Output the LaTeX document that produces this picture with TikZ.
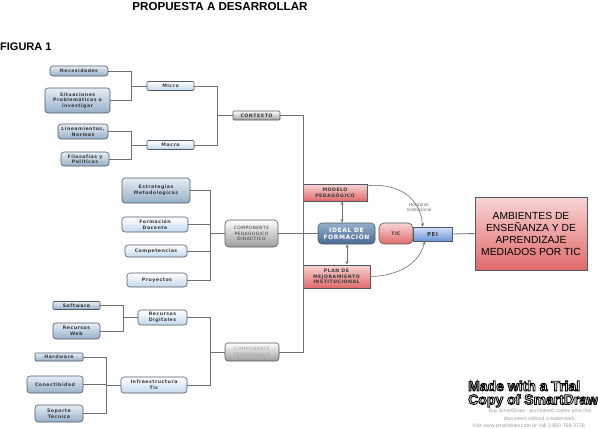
\documentclass[tikz,border=0pt]{standalone}
\usepackage{fontspec}
\setmainfont{Liberation Sans}
\newfontfamily\bx[LetterSpace=10]{DejaVu Sans}
\usetikzlibrary{arrows.meta}
\definecolor{lnc}{HTML}{707070}
\definecolor{bord}{HTML}{505A64}
\definecolor{txd}{HTML}{3A3A3A}
\definecolor{bltop}{HTML}{E6EEF6}
\definecolor{blbot}{HTML}{95AFC8}
\definecolor{lbbot}{HTML}{C2D8EE}
\definecolor{grbot}{HTML}{9C9C9C}
\definecolor{rdtop}{HTML}{F9D4D4}
\definecolor{rdbot}{HTML}{E06A6A}
\definecolor{idtop}{HTML}{95AFC8}
\definecolor{idbot}{HTML}{4A6A96}
\definecolor{petop}{HTML}{D4E2F8}
\definecolor{pebot}{HTML}{6A95D8}
\definecolor{ltxt}{HTML}{A0A0A0}
\newcommand{\outlinetext}[1]{\special{pdf:literal direct 1 Tr 0.9 w}#1\special{pdf:literal direct 0 Tr}}
\tikzset{
  base/.style={draw=bord, line width=0.6pt, align=center, inner sep=0.5pt, text=txd,
    font=\bx\bfseries\fontsize{4.7}{5.7}\selectfont},
  bluebox/.style={base, rounded corners=3pt, top color=bltop, bottom color=blbot},
  lbluebox/.style={base, rounded corners=3pt, top color=white, bottom color=lbbot},
  graybox/.style={base, rounded corners=3pt, top color=white, bottom color=grbot},
  redbox/.style={base, top color=rdtop, bottom color=rdbot},
  conn/.style={draw=lnc, line width=0.8pt},
  arr/.style={draw=lnc, line width=0.6pt, -{Stealth[length=3.5pt,width=3pt]}},
  darr/.style={draw=lnc, line width=0.6pt, {Stealth[length=3.5pt,width=3pt]}-{Stealth[length=3.5pt,width=3pt]}},
  wmfont/.style={font=\bfseries\fontsize{14}{13.5}\selectfont, anchor=west, inner sep=0pt, align=left},
}
\begin{document}
\begin{tikzpicture}[x=1pt,y=-1pt]
\useasboundingbox (0,0) rectangle (598,429);
\fill[white] (0,0) rectangle (598,429);

% titles
\node[font=\bfseries\fontsize{11.6}{13}\selectfont] (title) at (220,7) {PROPUESTA A DESARROLLAR};
\node[font=\bfseries\fontsize{11}{13}\selectfont, anchor=west, inner sep=0pt] (fig) at (0,47) {FIGURA 1};

% context branch
\node[bluebox, minimum width=58pt, minimum height=10pt] (nec) at (79,71) {Necesidades};
\node[bluebox, minimum width=65pt, minimum height=25pt] (sit) at (77.5,100.5) {Situaciones\\Problemáticas a\\investigar};
\node[lbluebox, rounded corners=1pt, minimum width=47pt, minimum height=9pt] (micro) at (170.5,86) {Micro};
\node[bluebox, minimum width=50pt, minimum height=15pt] (lin) at (83,131.5) {Lineamientos,\\Normas};
\node[bluebox, minimum width=48pt, minimum height=14pt] (fil) at (85,159) {Filosofías y\\Políticas};
\node[lbluebox, rounded corners=1pt, minimum width=47pt, minimum height=9pt] (macro) at (170.5,145) {Macro};
\node[graybox, rounded corners=1pt, minimum width=47pt, minimum height=9pt] (ctx) at (256.5,115.5) {CONTEXTO};

% pedagogic branch
\node[bluebox, minimum width=68pt, minimum height=25pt] (estr) at (156,190.5) {Estrategias\\Metodologicas};
\node[lbluebox, minimum width=66pt, minimum height=15pt] (form) at (155,224.5) {Formación\\Docente};
\node[lbluebox, minimum width=62pt, minimum height=12pt] (comp) at (156,251) {Competencias};
\node[lbluebox, minimum width=60pt, minimum height=14pt] (proy) at (157,280) {Proyectos};
\node[graybox, rounded corners=4pt, minimum width=53pt, minimum height=27pt, font=\bx\fontsize{4.4}{5.5}\selectfont] (cpd) at (251.5,233.5) {COMPONENTE\\PEDAGOGICO\\DIDACTICO};

% center
\node[redbox, minimum width=64pt, minimum height=17pt] (mod) at (335,192.5) {MODELO\\PEDAGÓGICO};
\node[base, rounded corners=4pt, top color=idtop, bottom color=idbot, text=white,
  font=\bx\bfseries\fontsize{6}{7}\selectfont, minimum width=57pt, minimum height=21pt] (ideal) at (346.5,233.5) {IDEAL DE\\FORMACIÓN};
\node[redbox, rounded corners=5pt, minimum width=34pt, minimum height=21pt] (tic) at (396,233.5) {TIC};
\node[base, top color=petop, bottom color=pebot, minimum width=39pt, minimum height=14pt,
  font=\bx\bfseries\fontsize{5.5}{6.5}\selectfont] (pei) at (432.5,234) {PEI};
\node[redbox, minimum width=112pt, minimum height=73pt, text=black,
  font=\fontsize{10.3}{12}\selectfont] (amb) at (531,233.5) {AMBIENTES DE\\ENSEÑANZA Y DE\\APRENDIZAJE\\MEDIADOS POR TIC};
\node[redbox, minimum width=67pt, minimum height=23pt] (plan) at (336.5,276.5) {PLAN DE\\MEJORAMIENTO\\INSTITUCIONAL};
\node[text=lnc, font=\fontsize{4.6}{5.2}\selectfont, align=center, inner sep=0pt] (hor) at (419,207.5) {Horizonte\\Institucional};

% technological branch
\node[bluebox, rounded corners=1pt, minimum width=47pt, minimum height=8pt] (soft) at (76.5,305.5) {Software};
\node[bluebox, minimum width=47pt, minimum height=16pt] (web) at (76.5,331) {Recursos\\Web};
\node[lbluebox, minimum width=49pt, minimum height=15pt] (recd) at (162.5,317.5) {Recursos\\Digitales};
\node[bluebox, rounded corners=1pt, minimum width=48pt, minimum height=8pt] (hard) at (59,357) {Hardware};
\node[bluebox, minimum width=56pt, minimum height=17pt] (conec) at (55,384.5) {Conectibidad};
\node[bluebox, minimum width=48pt, minimum height=17pt] (sop) at (59,413.5) {Soporte\\Técnico};
\node[lbluebox, minimum width=66pt, minimum height=16pt] (infra) at (154,385) {Infraestructura\\Tic};
\node[graybox, minimum width=54pt, minimum height=18pt, text=ltxt,
  font=\bx\fontsize{4.4}{5.5}\selectfont] (ctec) at (252,352) {COMPONENTE\\TECNOLOGICO};

% helper coordinates
\coordinate (xa) at (131,0);
\coordinate (xb) at (217,0);
\coordinate (xs) at (303,0);
\coordinate (xc) at (210,0);
\coordinate (xd) at (123,0);
\coordinate (xe) at (106,0);
\coordinate (xm) at (342,0);
\coordinate (xp) at (347,0);

% connectors
\draw[conn] (nec.east) -| (sit.east -| xa) -- (sit.east);
\draw[conn] (micro.west) -- (micro.west -| xa);
\draw[conn] (lin.east) -| (fil.east -| xa) -- (fil.east);
\draw[conn] (macro.west) -- (macro.west -| xa);
\draw[conn] (micro.east) -| (macro.east -| xb) -- (macro.east);
\draw[conn] (ctx.west) -- (ctx.west -| xb);
\draw[conn] (ctx.east) -| (ctec.east -| xs) -- (ctec.east);
\draw[conn] (estr.east) -| (proy.east -| xc) -- (proy.east);
\draw[conn] (form.east) -- (form.east -| xc);
\draw[conn] (comp.east) -- (comp.east -| xc);
\draw[conn] (cpd.west) -- (cpd.west -| xc);
\draw[conn] (cpd.east) -- (ideal.west);
\draw[conn] (pei.east) -- (amb.west);
\draw[conn] (soft.east) -| (web.east -| xd) -- (web.east);
\draw[conn] (recd.west) -- (recd.west -| xd);
\draw[conn] (hard.east) -| (sop.east -| xe) -- (sop.east);
\draw[conn] (conec.east) -- (conec.east -| xe);
\draw[conn] (infra.west) -- (infra.west -| xe);
\draw[conn] (recd.east) -| (infra.east -| xc) -- (infra.east);
\draw[conn] (ctec.west) -- (ctec.west -| xc);

\draw[darr] (ideal.north -| xm) -- (mod.south -| xm);
\draw[darr] (ideal.south -| xp) -- (plan.north -| xp);
\coordinate (pt) at ([xshift=10pt]pei.north west);
\coordinate (pb) at ([xshift=12pt]pei.south west);
\draw[arr] ([yshift=-2pt]mod.north east) .. controls (395,183) and (420,195) .. (pt);
\draw[arr] (plan.east) .. controls (400,276) and (420,262) .. (pb);

% watermark
\node[wmfont, text=black] (wm) at (468,394) {\outlinetext{Made with a Trial}\\\outlinetext{Copy of SmartDraw}};
\node[font=\fontsize{5.2}{7.3}\selectfont, text=ltxt, align=center, inner sep=0pt] (wm2) at (540,414.5)
  {Buy SmartDraw - purchased copies print this\\document without a watermark.};
\node[font=\fontsize{5.2}{7}\selectfont, text=ltxt, anchor=west, inner sep=0pt] (wm3) at (472,426)
  {Visit www.smartdraw.com or call 1-800-768-3729.};
\end{tikzpicture}
\end{document}
